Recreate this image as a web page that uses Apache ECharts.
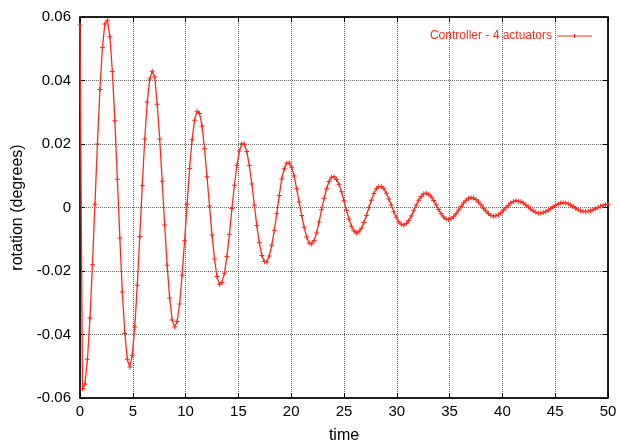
<!DOCTYPE html>
<html>
<head>
<meta charset="utf-8">
<script src="https://cdn.jsdelivr.net/npm/echarts@6/dist/echarts.min.js"></script>
<style>
  html, body { margin: 0; padding: 0; background: #fff; }
  #chart { width: 618px; height: 445px; }
</style>
</head>
<body>
<div id="chart"></div>
<script>
// rotation, one value per time step (t = 0 .. 50)
var rotation = [
  0.0575, -0.0570, -0.0556, -0.0478, -0.0348, -0.0180, 0.0010, 0.0200, 0.0372, 0.0504,
  0.0578, 0.0590, 0.0538, 0.0428, 0.0273, 0.0089, -0.0096, -0.0266, -0.0397, -0.0478,
  -0.0502, -0.0465, -0.0376, -0.0245, -0.0091, 0.0069, 0.0216, 0.0332, 0.0405, 0.0429,
  0.0411, 0.0325, 0.0216, 0.0083, -0.0055, -0.0182, -0.0285, -0.0354, -0.0376, -0.0359,
  -0.0304, -0.0213, -0.0105, 0.0010, 0.0123, 0.0213, 0.0275, 0.0303, 0.0296, 0.0257,
  0.0185, 0.0097, 0.0005, -0.0087, -0.0162, -0.0217, -0.0242, -0.0236, -0.0207, -0.0154,
  -0.0084, -0.0003, 0.0070, 0.0133, 0.0178, 0.0201, 0.0199, 0.0176, 0.0132, 0.0074,
  0.0008, -0.0057, -0.0111, -0.0151, -0.0170, -0.0172, -0.0153, -0.0119, -0.0072, -0.0020,
  0.0038, 0.0090, 0.0122, 0.0139, 0.0140, 0.0127, 0.0099, 0.0059, 0.0017, -0.0025,
  -0.0062, -0.0093, -0.0112, -0.0115, -0.0104, -0.0080, -0.0046, -0.0007, 0.0029, 0.0059,
  0.0082, 0.0095, 0.0097, 0.0088, 0.0073, 0.0050, 0.0021, -0.0009, -0.0036, -0.0059,
  -0.0074, -0.0080, -0.0076, -0.0065, -0.0047, -0.0025, 0.0000, 0.0023, 0.0044, 0.0059,
  0.0066, 0.0066, 0.0059, 0.0045, 0.0027, 0.0008, -0.0013, -0.0031, -0.0045, -0.0053,
  -0.0055, -0.0050, -0.0041, -0.0027, -0.0010, 0.0007, 0.0023, 0.0035, 0.0043, 0.0045,
  0.0042, 0.0034, 0.0022, 0.0008, -0.0006, -0.0020, -0.0030, -0.0036, -0.0038, -0.0035,
  -0.0029, -0.0020, -0.0008, 0.0003, 0.0014, 0.0023, 0.0029, 0.0031, 0.0030, 0.0025,
  0.0017, 0.0009, -0.0002, -0.0011, -0.0019, -0.0025, -0.0027, -0.0026, -0.0023, -0.0017,
  -0.0009, -0.0001, 0.0007, 0.0014, 0.0019, 0.0021, 0.0020, 0.0018, 0.0014, 0.0008,
  0.0002, -0.0005, -0.0011, -0.0015, -0.0018, -0.0018, -0.0016, -0.0013, -0.0009, -0.0003,
  0.0002, 0.0007, 0.0011, 0.0014, 0.0015, 0.0014, 0.0012, 0.0008, 0.0003, -0.0002,
  -0.0007, -0.0010, -0.0012, -0.0013, -0.0012, -0.0010, -0.0007, -0.0004, 0.0000, 0.0004,
  0.0007, 0.0009, 0.0010
];
var tEnd = 50;
var seriesName = 'Controller - 4 actuators';
var xTicks = [0, 50, 5];          // min, max, step
var yTicks = [-0.06, 0.06, 0.02];

var dt = tEnd / (rotation.length - 1);
var points = rotation.map(function (v, i) { return [i * dt, v]; });

var red = '#ff2a1a';
var font = '"Liberation Sans", Helvetica, Arial, sans-serif';
var grid = { type: 'dotted', color: '#666', width: 1 };

function fmt(v) { return String(parseFloat(v.toFixed(2))); }

var chart = echarts.init(document.getElementById('chart'));
chart.setOption({
  animation: false,
  textStyle: { fontFamily: font },
  grid: {
    left: 80, right: 10, top: 17, bottom: 47,
    outerBoundsMode: 'none', containLabel: false,
    show: true, borderColor: '#000', borderWidth: 1
  },
  legend: {
    right: 21, top: 25, align: 'right',
    itemWidth: 35, itemHeight: 4, itemGap: 7,
    textStyle: { color: red, fontSize: 12, fontFamily: font },
    // line sample with a small cross in the middle
    data: [{ name: seriesName, icon: 'path://M0,1.5h35v1h-35z M17,0h1v4h-1z M15.5,1.5h4v1h-4z' }]
  },
  xAxis: [{
    type: 'value', min: xTicks[0], max: xTicks[1], interval: xTicks[2],
    name: 'time', nameLocation: 'middle', nameGap: 30,
    nameTextStyle: { color: '#000', fontSize: 16, fontFamily: font },
    axisLine: { onZero: false, lineStyle: { color: '#000', width: 1.5 } },
    axisTick: { inside: true, length: 5, lineStyle: { color: '#000' } },
    axisLabel: { color: '#000', fontSize: 15, margin: 6 },
    splitLine: { show: true, lineStyle: grid }
  }, {
    type: 'value', position: 'top', min: xTicks[0], max: xTicks[1], interval: xTicks[2],
    axisLine: { onZero: false, lineStyle: { color: '#000', width: 1.5 } },
    axisTick: { inside: true, length: 5, lineStyle: { color: '#000' } },
    axisLabel: { show: false }, splitLine: { show: false }
  }],
  yAxis: [{
    type: 'value', min: yTicks[0], max: yTicks[1], interval: yTicks[2],
    name: 'rotation (degrees)', nameLocation: 'middle', nameGap: 54,
    nameTextStyle: { color: '#000', fontSize: 16, fontFamily: font },
    axisLine: { onZero: false, lineStyle: { color: '#000', width: 1.5 } },
    axisTick: { inside: true, length: 5, lineStyle: { color: '#000' } },
    axisLabel: { color: '#000', fontSize: 15, margin: 9, formatter: fmt },
    splitLine: { show: true, lineStyle: grid }
  }, {
    type: 'value', position: 'right', min: yTicks[0], max: yTicks[1], interval: yTicks[2],
    axisLine: { onZero: false, lineStyle: { color: '#000', width: 1.5 } },
    axisTick: { inside: true, length: 5, lineStyle: { color: '#000' } },
    axisLabel: { show: false }, splitLine: { show: false }
  }],
  series: [{
    name: seriesName,
    type: 'line',
    data: points,
    color: red,
    lineStyle: { color: red, width: 1.3 },
    symbol: 'path://M2,0h1v2h2v1h-2v2h-1v-2h-2v-1h2z',
    symbolSize: 5,
    itemStyle: { color: red },
    showSymbol: true
  }]
});
</script>
</body>
</html>
